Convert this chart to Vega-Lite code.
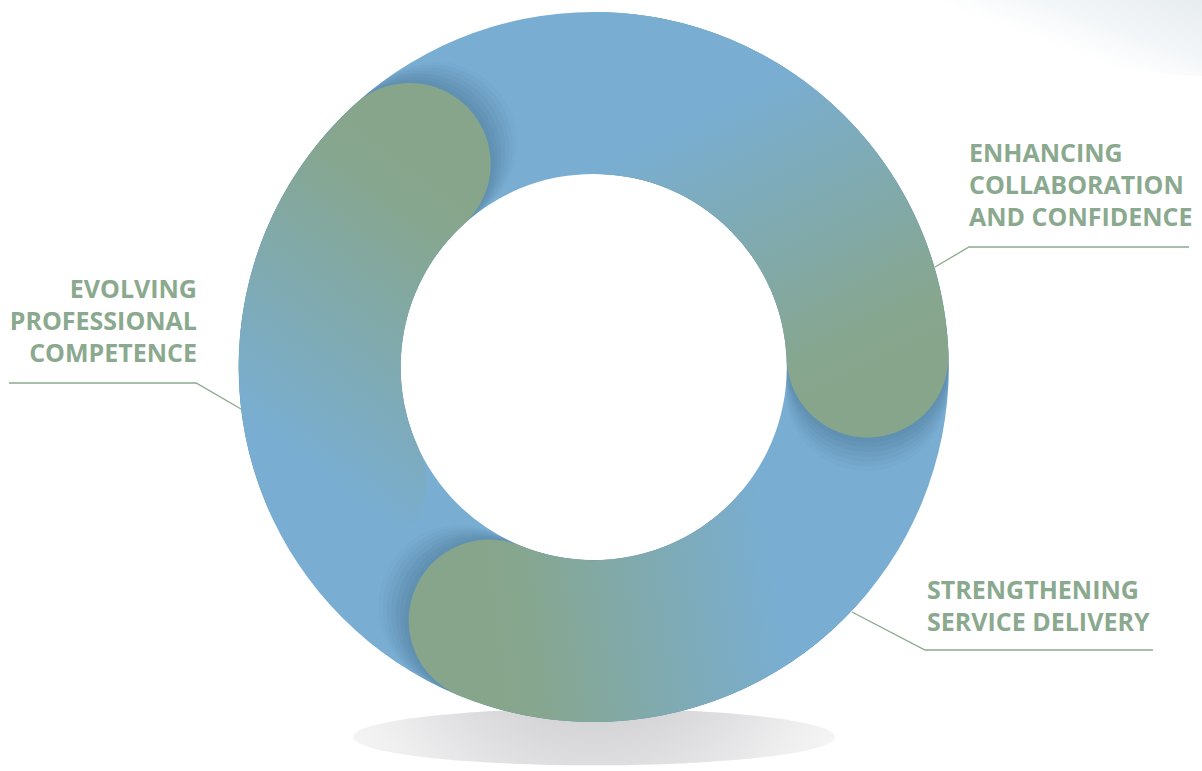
{
  "$schema": "https://vega.github.io/schema/vega-lite/v6.json",
  "width": 1202,
  "height": 771,
  "padding": 0,
  "autosize": {"type": "none"},
  "background": "#ffffff",
  "config": {"view": {"stroke": null}},
  "resolve": {"scale": {"theta": "independent"}},
  "datasets": {
    "arcs": [
      {"part": "ring", "t0": 0, "t1": 360, "r0": 54.4, "r1": 100},
      {"part": "seg1", "t0": 228, "t1": 335, "r0": 54.4, "r1": 100},
      {"part": "seg2", "t0": -16, "t1": 105, "r0": 54.4, "r1": 100},
      {"part": "seg3", "t0": 113, "t1": 219.5, "r0": 54.4, "r1": 100}
    ],
    "labels": [
      {"id": "L", "x": -111.75, "y": 19.3, "label": "EVOLVING\nPROFESSIONAL\nCOMPETENCE"},
      {"id": "R", "x": 105.72, "y": 57.75, "label": "ENHANCING\nCOLLABORATION\nAND CONFIDENCE"},
      {"id": "B", "x": 93.89, "y": -65.35, "label": "STRENGTHENING\nSERVICE DELIVERY"}
    ],
    "leaders": [
      {"id": "L", "ord": 1, "x": -164.7, "y": -4.51},
      {"id": "L", "ord": 2, "x": -111.99, "y": -4.51},
      {"id": "L", "ord": 3, "x": -99.35, "y": -11.83},
      {"id": "R", "ord": 1, "x": 167.69, "y": 33.8},
      {"id": "R", "ord": 2, "x": 105.72, "y": 33.8},
      {"id": "R", "ord": 3, "x": 96.14, "y": 28.17},
      {"id": "B", "ord": 1, "x": 157.55, "y": -79.72},
      {"id": "B", "ord": 2, "x": 93.32, "y": -79.72},
      {"id": "B", "ord": 3, "x": 72.76, "y": -69.01}
    ],
    "deco": [
      {"part": "swoosh", "x": 204.6, "y": 103.4},
      {"part": "ground", "x": 0.08, "y": -104.2}
    ]
  },
  "layer": [
    {
      "data": {"name": "deco"},
      "transform": [{"filter": "datum.part === 'swoosh'"}],
      "mark": {
        "type": "point", "filled": true, "opacity": 1, "size": 608400,
        "shape": "M-1,0A1,0.205,0,1,0,1,0A1,0.205,0,1,0,-1,0Z",
        "fill": {"gradient": "linear", "x1": 0, "y1": 0.5, "x2": 0.36, "y2": 0.3,
          "stops": [{"offset": 0, "color": "#ffffff"}, {"offset": 0.3, "color": "#f3f6f8"}, {"offset": 1, "color": "#dfe6ea"}]}
      },
      "encoding": {
        "x": {"field": "x", "type": "quantitative", "axis": null, "scale": {"domain": [-167.24, 171.35], "nice": false, "zero": false}},
        "y": {"field": "y", "type": "quantitative", "axis": null, "scale": {"domain": [-113.8, 103.38], "nice": false, "zero": false}}
      }
    },
    {
      "data": {"name": "deco"},
      "transform": [{"filter": "datum.part === 'ground'"}],
      "mark": {
        "type": "point", "filled": true, "opacity": 1, "size": 232324,
        "shape": "M-1,0A1,0.118,0,1,0,1,0A1,0.118,0,1,0,-1,0Z",
        "fill": {"gradient": "radial", "x1": 0.5, "y1": 0.12, "r1": 0, "x2": 0.5, "y2": 0.3, "r2": 0.68,
          "stops": [{"offset": 0, "color": "#a9a9af"}, {"offset": 0.3, "color": "#cbcbcf"}, {"offset": 0.7, "color": "#eeeeef"}, {"offset": 1, "color": "#ffffff"}]}
      },
      "encoding": {
        "x": {"field": "x", "type": "quantitative", "axis": null, "scale": {"domain": [-167.24, 171.35], "nice": false, "zero": false}},
        "y": {"field": "y", "type": "quantitative", "axis": null, "scale": {"domain": [-113.8, 103.38], "nice": false, "zero": false}}
      }
    },
    {
      "data": {"name": "arcs"},
      "transform": [{"filter": "datum.part === 'ring'"}],
      "mark": {"type": "arc", "fill": "#79aed2"},
      "encoding": {
        "x": {"datum": 0, "type": "quantitative", "axis": null, "scale": {"domain": [-167.24, 171.35], "nice": false, "zero": false}},
        "y": {"datum": 0, "type": "quantitative", "axis": null, "scale": {"domain": [-113.8, 103.38], "nice": false, "zero": false}},
        "theta": {"field": "t0", "type": "quantitative", "stack": null, "scale": {"domain": [0, 360], "range": [0, 6.283185307], "nice": false, "zero": false}},
        "theta2": {"field": "t1"},
        "radius": {"field": "r0", "type": "quantitative", "scale": {"type": "linear", "domain": [0, 100], "range": [0, 355], "nice": false, "zero": false}},
        "radius2": {"field": "r1"}
      }
    },
    {
      "data": {"name": "arcs"},
      "transform": [{"filter": "datum.part !== 'ring'"}],
      "mark": {"type": "arc", "cornerRadius": 81, "fill": "#1f3a58", "fillOpacity": 0.03},
      "encoding": {
        "x": {"datum": 0, "type": "quantitative"},
        "y": {"datum": 0, "type": "quantitative"},
        "theta": {"field": "t0", "type": "quantitative", "stack": null, "scale": {"domain": [-7, 353], "range": [0, 6.283185307], "nice": false, "zero": false}},
        "theta2": {"field": "t1"},
        "radius": {"field": "r0", "type": "quantitative"},
        "radius2": {"field": "r1"}
      }
    },
    {
      "data": {"name": "arcs"},
      "transform": [{"filter": "datum.part !== 'ring'"}],
      "mark": {"type": "arc", "cornerRadius": 81, "fill": "#1f3a58", "fillOpacity": 0.03},
      "encoding": {
        "x": {"datum": 0, "type": "quantitative"},
        "y": {"datum": 0, "type": "quantitative"},
        "theta": {"field": "t0", "type": "quantitative", "stack": null, "scale": {"domain": [-6, 354], "range": [0, 6.283185307], "nice": false, "zero": false}},
        "theta2": {"field": "t1"},
        "radius": {"field": "r0", "type": "quantitative"},
        "radius2": {"field": "r1"}
      }
    },
    {
      "data": {"name": "arcs"},
      "transform": [{"filter": "datum.part !== 'ring'"}],
      "mark": {"type": "arc", "cornerRadius": 81, "fill": "#1f3a58", "fillOpacity": 0.035},
      "encoding": {
        "x": {"datum": 0, "type": "quantitative"},
        "y": {"datum": 0, "type": "quantitative"},
        "theta": {"field": "t0", "type": "quantitative", "stack": null, "scale": {"domain": [-5, 355], "range": [0, 6.283185307], "nice": false, "zero": false}},
        "theta2": {"field": "t1"},
        "radius": {"field": "r0", "type": "quantitative"},
        "radius2": {"field": "r1"}
      }
    },
    {
      "data": {"name": "arcs"},
      "transform": [{"filter": "datum.part !== 'ring'"}],
      "mark": {"type": "arc", "cornerRadius": 81, "fill": "#1f3a58", "fillOpacity": 0.035},
      "encoding": {
        "x": {"datum": 0, "type": "quantitative"},
        "y": {"datum": 0, "type": "quantitative"},
        "theta": {"field": "t0", "type": "quantitative", "stack": null, "scale": {"domain": [-4, 356], "range": [0, 6.283185307], "nice": false, "zero": false}},
        "theta2": {"field": "t1"},
        "radius": {"field": "r0", "type": "quantitative"},
        "radius2": {"field": "r1"}
      }
    },
    {
      "data": {"name": "arcs"},
      "transform": [{"filter": "datum.part !== 'ring'"}],
      "mark": {"type": "arc", "cornerRadius": 81, "fill": "#1f3a58", "fillOpacity": 0.04},
      "encoding": {
        "x": {"datum": 0, "type": "quantitative"},
        "y": {"datum": 0, "type": "quantitative"},
        "theta": {"field": "t0", "type": "quantitative", "stack": null, "scale": {"domain": [-3, 357], "range": [0, 6.283185307], "nice": false, "zero": false}},
        "theta2": {"field": "t1"},
        "radius": {"field": "r0", "type": "quantitative"},
        "radius2": {"field": "r1"}
      }
    },
    {
      "data": {"name": "arcs"},
      "transform": [{"filter": "datum.part !== 'ring'"}],
      "mark": {"type": "arc", "cornerRadius": 81, "fill": "#1f3a58", "fillOpacity": 0.04},
      "encoding": {
        "x": {"datum": 0, "type": "quantitative"},
        "y": {"datum": 0, "type": "quantitative"},
        "theta": {"field": "t0", "type": "quantitative", "stack": null, "scale": {"domain": [-2, 358], "range": [0, 6.283185307], "nice": false, "zero": false}},
        "theta2": {"field": "t1"},
        "radius": {"field": "r0", "type": "quantitative"},
        "radius2": {"field": "r1"}
      }
    },
    {
      "data": {"name": "arcs"},
      "transform": [{"filter": "datum.part !== 'ring'"}],
      "mark": {"type": "arc", "cornerRadius": 81, "fill": "#1f3a58", "fillOpacity": 0.045},
      "encoding": {
        "x": {"datum": 0, "type": "quantitative"},
        "y": {"datum": 0, "type": "quantitative"},
        "theta": {"field": "t0", "type": "quantitative", "stack": null, "scale": {"domain": [-1, 359], "range": [0, 6.283185307], "nice": false, "zero": false}},
        "theta2": {"field": "t1"},
        "radius": {"field": "r0", "type": "quantitative"},
        "radius2": {"field": "r1"}
      }
    },
    {
      "data": {"name": "arcs"},
      "transform": [{"filter": "datum.part === 'seg1'"}],
      "mark": {"type": "arc", "cornerRadius": 81,
        "fill": {"gradient": "linear", "x1": 0.68, "y1": 0.15, "x2": 0.4, "y2": 0.85,
          "stops": [{"offset": 0, "color": "#87a58a"}, {"offset": 0.15, "color": "#86a68f"}, {"offset": 1, "color": "#79aed2"}]}},
      "encoding": {
        "x": {"datum": 0, "type": "quantitative"},
        "y": {"datum": 0, "type": "quantitative"},
        "theta": {"field": "t0", "type": "quantitative", "stack": null, "scale": {"domain": [0, 360], "range": [0, 6.283185307], "nice": false, "zero": false}},
        "theta2": {"field": "t1"},
        "radius": {"field": "r0", "type": "quantitative"},
        "radius2": {"field": "r1"}
      }
    },
    {
      "data": {"name": "arcs"},
      "transform": [{"filter": "datum.part === 'seg2'"}],
      "mark": {"type": "arc", "cornerRadius": 81,
        "fill": {"gradient": "linear", "x1": 0.83, "y1": 0.85, "x2": 0.5, "y2": 0.2,
          "stops": [{"offset": 0, "color": "#87a58a"}, {"offset": 0.15, "color": "#86a68f"}, {"offset": 1, "color": "#79aed2"}]}},
      "encoding": {
        "x": {"datum": 0, "type": "quantitative"},
        "y": {"datum": 0, "type": "quantitative"},
        "theta": {"field": "t0", "type": "quantitative", "stack": null, "scale": {"domain": [0, 360], "range": [0, 6.283185307], "nice": false, "zero": false}},
        "theta2": {"field": "t1"},
        "radius": {"field": "r0", "type": "quantitative"},
        "radius2": {"field": "r1"}
      }
    },
    {
      "data": {"name": "arcs"},
      "transform": [{"filter": "datum.part === 'seg3'"}],
      "mark": {"type": "arc", "cornerRadius": 81,
        "fill": {"gradient": "linear", "x1": 0.16, "y1": 0.6, "x2": 0.78, "y2": 0.55,
          "stops": [{"offset": 0, "color": "#87a58a"}, {"offset": 0.15, "color": "#86a68f"}, {"offset": 1, "color": "#79aed2"}]}},
      "encoding": {
        "x": {"datum": 0, "type": "quantitative"},
        "y": {"datum": 0, "type": "quantitative"},
        "theta": {"field": "t0", "type": "quantitative", "stack": null, "scale": {"domain": [0, 360], "range": [0, 6.283185307], "nice": false, "zero": false}},
        "theta2": {"field": "t1"},
        "radius": {"field": "r0", "type": "quantitative"},
        "radius2": {"field": "r1"}
      }
    },
    {
      "data": {"name": "leaders"},
      "mark": {"type": "line", "stroke": "#8aa98e", "strokeWidth": 1.3, "interpolate": "linear"},
      "encoding": {
        "x": {"field": "x", "type": "quantitative"},
        "y": {"field": "y", "type": "quantitative"},
        "detail": {"field": "id"},
        "order": {"field": "ord"}
      }
    },
    {
      "data": {"name": "labels"},
      "transform": [{"filter": "datum.id === 'L'"}],
      "mark": {"type": "text", "align": "right", "baseline": "alphabetic", "lineBreak": "\n", "lineHeight": 32, "font": "Open Sans", "fontWeight": 700, "fontSize": 25, "fill": "#8aa98e"},
      "encoding": {
        "x": {"field": "x", "type": "quantitative"},
        "y": {"field": "y", "type": "quantitative"},
        "text": {"field": "label"}
      }
    },
    {
      "data": {"name": "labels"},
      "transform": [{"filter": "datum.id !== 'L'"}],
      "mark": {"type": "text", "align": "left", "baseline": "alphabetic", "lineBreak": "\n", "lineHeight": 32, "font": "Open Sans", "fontWeight": 700, "fontSize": 25, "fill": "#8aa98e"},
      "encoding": {
        "x": {"field": "x", "type": "quantitative"},
        "y": {"field": "y", "type": "quantitative"},
        "text": {"field": "label"}
      }
    }
  ]
}
